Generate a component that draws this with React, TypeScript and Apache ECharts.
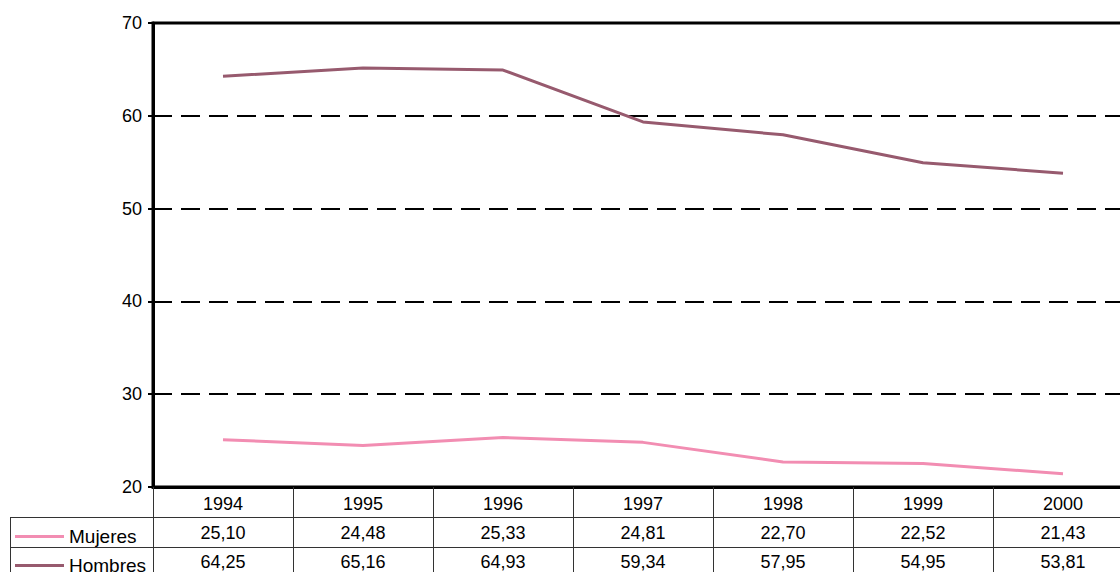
import React, { useEffect, useRef } from "react";
import * as echarts from "echarts";

const years = ["1994", "1995", "1996", "1997", "1998", "1999", "2000"];
const mujeres = [25.1, 24.48, 25.33, 24.81, 22.7, 22.52, 21.43];
const hombres = [64.25, 65.16, 64.93, 59.34, 57.95, 54.95, 53.81];
const seriesNames = ["Mujeres", "Hombres"];
const yMin = 20;
const yMax = 70;
const yStep = 10;

const PINK = "#f28db2";
const MAUVE = "#975a6e";
const FONT = "Liberation Sans, Arial, sans-serif";

const fmt = (v: number) => v.toFixed(2).replace(".", ",");

export default function App() {
  const ref = useRef<HTMLDivElement>(null);
  useEffect(() => {
    if (!ref.current) return;
    const chart = echarts.init(ref.current, undefined, { renderer: "svg" });
    const labelStyle = { color: "#000", fontSize: 18, fontFamily: FONT };
    const tableLine = { color: "#333", width: 1 };
    const legendText = { color: "#000", fontSize: 19, lineHeight: 16, fontFamily: FONT };
    chart.setOption({
      animation: false,
      backgroundColor: "#fff",
      textStyle: { fontFamily: FONT },
      grid: {
        left: 153,
        top: 23,
        width: 980,
        height: 464,
        show: true,
        borderColor: "#000",
        borderWidth: 3,
        backgroundColor: "transparent",
        containLabel: false,
        outerBoundsMode: "none",
      },
      legend: [
        {
          data: [seriesNames[0]],
          left: 15,
          top: 527,
          padding: 0,
          icon: "rect",
          itemWidth: 49,
          itemHeight: 3,
          textStyle: legendText,
        },
        {
          data: [seriesNames[1]],
          left: 15,
          top: 556,
          padding: 0,
          icon: "rect",
          itemWidth: 49,
          itemHeight: 3,
          textStyle: legendText,
        },
      ],
      xAxis: [
        {
          type: "category",
          data: years,
          position: "bottom",
          boundaryGap: true,
          axisLine: { show: true, lineStyle: { color: "#000", width: 3 } },
          axisTick: { show: true, length: 90, lineStyle: tableLine },
          axisLabel: { ...labelStyle, margin: 8 },
          splitLine: { show: false },
        },
        {
          type: "category",
          data: years,
          position: "bottom",
          offset: 30,
          axisLine: { show: true, lineStyle: tableLine },
          axisTick: { show: false },
          axisLabel: {
            ...labelStyle,
            margin: 7,
            formatter: (_v: string, i: number) => fmt(mujeres[i]),
          },
        },
        {
          type: "category",
          data: years,
          position: "bottom",
          offset: 60,
          axisLine: { show: true, lineStyle: tableLine },
          axisTick: { show: false },
          axisLabel: {
            ...labelStyle,
            lineHeight: 16,
            margin: 7,
            formatter: (_v: string, i: number) => fmt(hombres[i]),
          },
        },
      ],
      yAxis: {
        type: "value",
        min: yMin,
        max: yMax,
        interval: yStep,
        axisLine: { show: true, lineStyle: { color: "#000", width: 3 } },
        axisTick: { show: true, length: 5, lineStyle: { color: "#000", width: 2 } },
        axisLabel: { ...labelStyle, margin: 11 },
        splitLine: {
          show: true,
          lineStyle: { color: "#000", width: 2, type: [19, 9] },
        },
      },
      graphic: [
        { type: "line", shape: { x1: 10, y1: 517.5, x2: 153, y2: 517.5 }, style: { stroke: "#333", lineWidth: 1 } },
        { type: "line", shape: { x1: 10, y1: 547.5, x2: 153, y2: 547.5 }, style: { stroke: "#333", lineWidth: 1 } },
        { type: "line", shape: { x1: 10.5, y1: 517.5, x2: 10.5, y2: 580 }, style: { stroke: "#333", lineWidth: 1 } },
      ],
      series: [
        {
          name: seriesNames[0],
          type: "line",
          data: mujeres,
          showSymbol: false,
          symbol: "none",
          color: PINK,
          lineStyle: { color: PINK, width: 3 },
        },
        {
          name: seriesNames[1],
          type: "line",
          data: hombres,
          showSymbol: false,
          symbol: "none",
          color: MAUVE,
          lineStyle: { color: MAUVE, width: 3 },
        },
      ],
    });
    return () => chart.dispose();
  }, []);
  return (
    <div
      ref={ref}
      style={{ position: "absolute", left: 0, top: 0, width: 1120, height: 572 }}
    />
  );
}
